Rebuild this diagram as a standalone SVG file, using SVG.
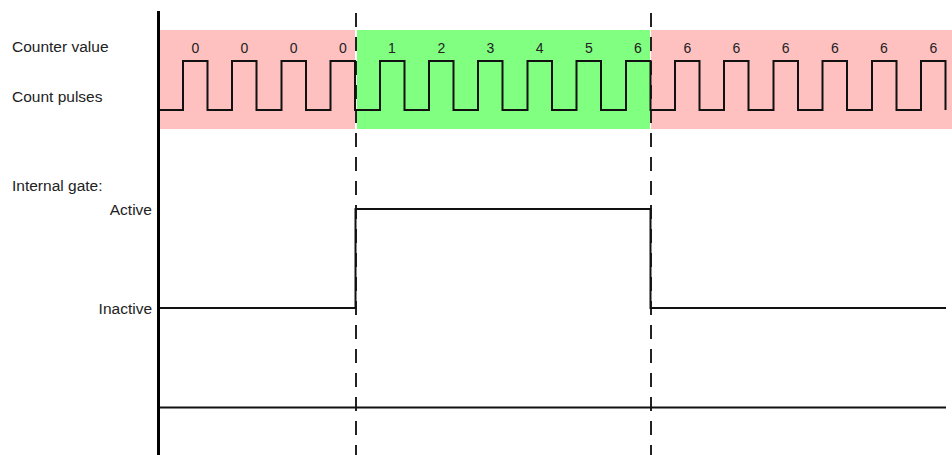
<svg xmlns="http://www.w3.org/2000/svg" width="952" height="455" viewBox="0 0 952 455">
<style>
.lbl{font-family:"Liberation Sans",Arial,sans-serif;font-size:15.5px;fill:#222}
.dig{font-family:"Liberation Sans",Arial,sans-serif;font-size:14px;fill:#222;text-anchor:middle}
.sig{fill:none;stroke:#111;stroke-width:2}
.dash{fill:none;stroke:#222;stroke-width:2;stroke-dasharray:14 10}
</style>
<rect width="952" height="455" fill="#fff"/>
<g id="bands">
<rect x="160" y="30" width="195" height="99" fill="#ffc0c0"/>
<rect x="357" y="30" width="293" height="99" fill="#80ff80"/>
<rect x="651" y="30" width="301" height="99" fill="#ffc0c0"/>
</g>
<g id="labels">
<text class="lbl" x="12" y="51.5">Counter value</text>
<text class="lbl" x="12" y="102">Count pulses</text>
<text class="lbl" x="12" y="191">Internal gate:</text>
<text class="lbl" x="152" y="215" text-anchor="end">Active</text>
<text class="lbl" x="152" y="314" text-anchor="end">Inactive</text>
</g>
<g id="counter-values">
<text class="dig" x="195.3" y="53">0</text>
<text class="dig" x="244.5" y="53">0</text>
<text class="dig" x="293.7" y="53">0</text>
<text class="dig" x="342.9" y="53">0</text>
<text class="dig" x="392" y="53">1</text>
<text class="dig" x="441.3" y="53">2</text>
<text class="dig" x="490.5" y="53">3</text>
<text class="dig" x="539.7" y="53">4</text>
<text class="dig" x="588.9" y="53">5</text>
<text class="dig" x="638" y="53">6</text>
<text class="dig" x="687.3" y="53">6</text>
<text class="dig" x="736.5" y="53">6</text>
<text class="dig" x="785.7" y="53">6</text>
<text class="dig" x="834.9" y="53">6</text>
<text class="dig" x="884" y="53">6</text>
<text class="dig" x="933.3" y="53">6</text>
</g>
<g id="connectors">
<path class="dash" d="M356,13 V455"/>
<path class="dash" d="M651,13 V455"/>
<path id="count-pulses" class="sig" d="M160,110 H183 V61 H207.5 V110 H232 V61 H256.5 V110 H281.5 V61 H306 V110 H330.5 V61 H355 V110 H380 V61 H404.5 V110 H429 V61 H453.5 V110 H478 V61 H502.5 V110 H527.5 V61 H552 V110 H576.5 V61 H601 V110 H626 V61 H650.5 V110 H675 V61 H699.5 V110 H724 V61 H748.5 V110 H773.5 V61 H798 V110 H822.5 V61 H847 V110 H872 V61 H896.5 V110 H921 V61 H945.5 V110"/>
<path id="internal-gate" class="sig" d="M160,308 H355.5 V209 H650.5 V308 H946"/>
<path id="baseline" class="sig" stroke-width="2.5" d="M160,407.5 H946"/>
<path id="axis" fill="none" stroke="#000" stroke-width="3" d="M158.5,11 V455"/>
</g>
</svg>
